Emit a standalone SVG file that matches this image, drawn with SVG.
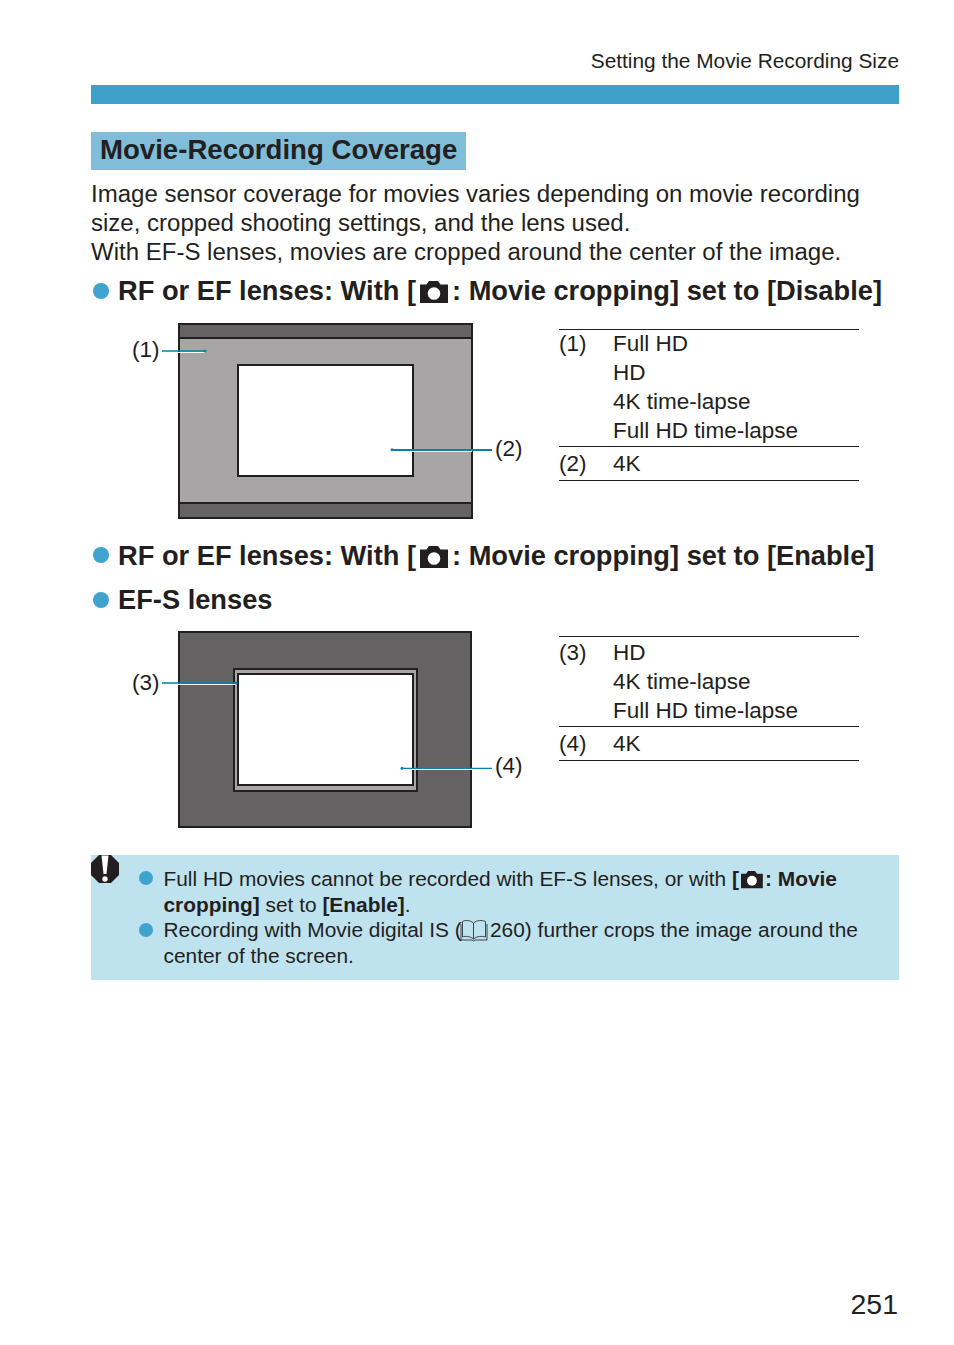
<svg xmlns="http://www.w3.org/2000/svg" width="954" height="1345" viewBox="0 0 954 1345">
<style>
text{font-family:"Liberation Sans",Arial,sans-serif;fill:#231f20}
.b{font-size:24.02px}
.h{font-size:27.25px;font-weight:bold}
.t{font-size:22.5px}
.n{font-size:20.88px}
.nb{font-size:20.88px;font-weight:bold}
.d{fill:#231f20}
.dark{fill:#656263;stroke:#231f20;stroke-width:2}
.mid{fill:#a7a5a6;stroke:#231f20;stroke-width:2}
.win{fill:#fff;stroke:#231f20;stroke-width:2}
.rule{stroke:#231f20;stroke-width:1;fill:none}
.lead{stroke:#0a7fb0;stroke-width:1.3;fill:none}
.halo{stroke:#fff;stroke-width:1;fill:none}
.dot{fill:#3fa3cf}
.tip{fill:#0a7fb0}
</style>
<defs>
<g id="cam"><path class="d" d="M0 3.5H6.5L9 0H18L20.500 3.500H28V22H0Z"/><circle cx="14" cy="12.500" r="6.300" fill="#fff"/></g>
</defs>
<g id="header">
<text x="899" y="68" text-anchor="end" style="font-size:20.85px">Setting the Movie Recording Size</text>
<rect x="91" y="85" width="808" height="19" fill="#3fa1c9"/>
</g>
<g id="title">
<rect x="91" y="132" width="375" height="38" fill="#7fbdd9"/>
<text x="100" y="159" style="font-size:27.6px;font-weight:bold">Movie-Recording Coverage</text>
</g>
<g id="intro">
<text class="b" x="91" y="202">Image sensor coverage for movies varies depending on movie recording</text>
<text class="b" x="91" y="231">size, cropped shooting settings, and the lens used.</text>
<text class="b" x="91" y="260">With EF-S lenses, movies are cropped around the center of the image.</text>
</g>
<g id="heading-disable">
<circle class="dot" cx="101" cy="291" r="8"/>
<text class="h" x="118" y="300">RF or EF lenses: With [</text>
<use href="#cam" x="420" y="281"/>
<text class="h" x="452" y="300">: Movie cropping] set to [Disable]</text>
</g>
<g id="diagram-1">
<rect class="mid" x="179" y="324" width="293" height="194"/>
<rect class="dark" x="179" y="324" width="293" height="14"/>
<rect class="dark" x="179" y="503" width="293" height="15"/>
<rect class="win" x="238" y="365" width="175" height="111"/>
</g>
<g id="label-1"><text class="t" x="132" y="357">(1)</text></g>
<g id="label-2"><text class="t" x="495" y="456">(2)</text></g>
<g id="table-1">
<path class="rule" d="M559 329.500H859M559 446.500H859M559 480.500H859"/>
<text class="t" x="559" y="351">(1)</text>
<text class="t" x="613" y="351">Full HD</text>
<text class="t" x="613" y="380">HD</text>
<text class="t" x="613" y="408.500">4K time-lapse</text>
<text class="t" x="613" y="438">Full HD time-lapse</text>
<text class="t" x="559" y="471">(2)</text>
<text class="t" x="613" y="471">4K</text>
</g>
<g id="heading-enable">
<circle class="dot" cx="101" cy="555" r="8"/>
<text class="h" x="118" y="564.500">RF or EF lenses: With [</text>
<use href="#cam" x="420" y="546"/>
<text class="h" x="452" y="564.500">: Movie cropping] set to [Enable]</text>
</g>
<g id="heading-efs">
<circle class="dot" cx="101" cy="600" r="8"/>
<text class="h" x="118" y="609">EF-S lenses</text>
</g>
<g id="diagram-2">
<rect class="dark" x="179" y="632" width="292" height="195"/>
<rect class="mid" x="234" y="669" width="183" height="122"/>
<rect class="win" x="238" y="674" width="175" height="111"/>
</g>
<g id="label-3"><text class="t" x="132" y="690">(3)</text></g>
<g id="label-4"><text class="t" x="495" y="773">(4)</text></g>
<g id="table-2">
<path class="rule" d="M559 636.500H859M559 726.500H859M559 760.500H859"/>
<text class="t" x="559" y="660">(3)</text>
<text class="t" x="613" y="660">HD</text>
<text class="t" x="613" y="688.500">4K time-lapse</text>
<text class="t" x="613" y="718">Full HD time-lapse</text>
<text class="t" x="559" y="750.500">(4)</text>
<text class="t" x="613" y="750.500">4K</text>
</g>
<g id="connectors">
<path class="halo" d="M162 352.500H205M392 451.500H472M162 684.500H236M402 769.500H472"/>
<path class="lead" d="M162 351H205M402 768.300H492M162 683H236"/>
<path class="lead" style="stroke-width:2" d="M392 450H492"/>
<circle class="tip" cx="205" cy="351" r="1.500"/>
<circle class="tip" cx="392" cy="449.700" r="1.500"/>
<circle class="tip" cx="236" cy="683" r="1.500"/>
<circle class="tip" cx="402" cy="768.300" r="1.500"/>
</g>
<g id="note">
<rect x="91" y="855" width="808" height="125" fill="#bfe2ef"/>
<path class="d" d="M99 855H111L119 863V875L111 883H99L91 875V863Z"/>
<path d="M101.500 855.500H108.500L106.500 874H103.500Z" fill="#fff"/>
<circle cx="105" cy="879" r="2.700" fill="#fff"/>
<circle class="dot" cx="146" cy="878" r="7"/>
<text class="n" x="163.500" y="886">Full HD movies cannot be recorded with EF-S lenses, or with <tspan class="nb">[</tspan></text>
<use href="#cam" transform="translate(741 871) scale(.78)"/>
<text class="nb" x="765" y="886">: Movie</text>
<text class="n" x="163.500" y="911.500"><tspan class="nb">cropping]</tspan> set to <tspan class="nb">[Enable]</tspan>.</text>
<circle class="dot" cx="146" cy="930" r="7"/>
<text class="n" x="163.500" y="937">Recording with Movie digital IS (</text>
<path d="M473.500 923C470 920 465 920 462.500 921.500V937C465 936 470 936 473.500 939C477 936 482 936 485.500 937V921.500C482 920 477 920 473.500 923ZM473.500 923V939M461 924V940H472L473.500 941L475 940H487V924" fill="none" stroke="#231f20" stroke-width=".8"/>
<text class="n" x="490" y="937">260) further crops the image around the</text>
<text class="n" x="163.500" y="963">center of the screen.</text>
</g>
<g id="page-number"><text x="898" y="1314" text-anchor="end" style="font-size:28.5px">251</text></g>
</svg>
